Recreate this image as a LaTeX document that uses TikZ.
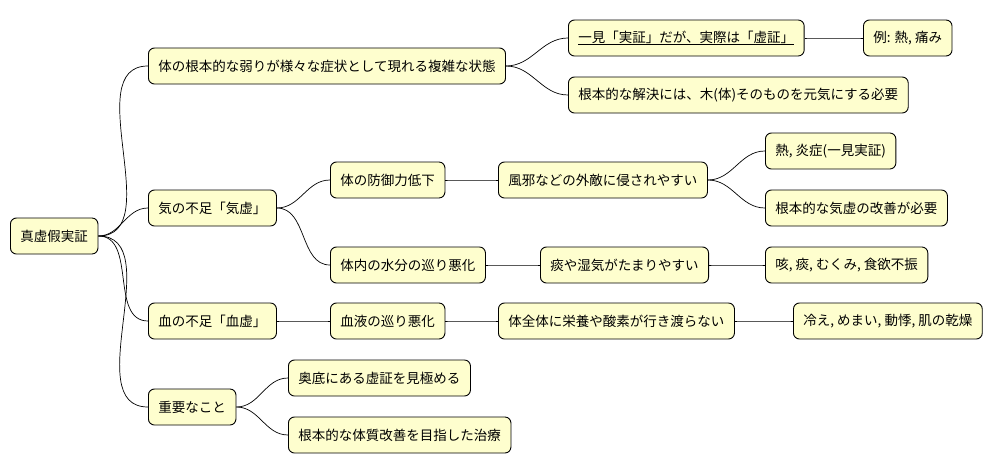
\documentclass[tikz,border=0pt]{standalone}
\usepackage{fontspec}
\setmainfont{Noto Sans CJK JP}
\definecolor{nodefill}{HTML}{FEFECE}
\begin{document}
\begin{tikzpicture}[x=1pt,y=-1pt,
  box/.style={draw=black,line width=0.9pt,rounded corners=6pt,fill=nodefill,
    minimum height=36pt,inner xsep=10pt,anchor=west,font=\fontsize{13.5pt}{16pt}\selectfont},
  link/.style={draw=black,line width=0.7pt}]
\useasboundingbox (0,0) rectangle (1005,471);
\node[box] (r) at (10,236) {真虚假実証};
\node[box] (a) at (148,66) {体の根本的な弱りが様々な症状として現れる複雑な状態};
\node[box] (a1) at (568,38) {\underline{一見「実証」だが、実際は「虚証」}};
\node[box] (a11) at (863,38) {例: 熱, 痛み};
\node[box] (a2) at (568,95) {根本的な解決には、木(体)そのものを元気にする必要};
\node[box] (b) at (148,208) {気の不足「気虚」};
\node[box] (b1) at (330,180) {体の防御力低下};
\node[box] (b11) at (498,180) {風邪などの外敵に侵されやすい};
\node[box] (b111) at (765,151) {熱, 炎症(一見実証)};
\node[box] (b112) at (765,208) {根本的な気虚の改善が必要};
\node[box] (b2) at (330,265) {体内の水分の巡り悪化};
\node[box] (b21) at (540,265) {痰や湿気がたまりやすい};
\node[box] (b211) at (765,265) {咳, 痰, むくみ, 食欲不振};
\node[box] (c) at (148,321) {血の不足「血虚」};
\node[box] (c1) at (330,321) {血液の巡り悪化};
\node[box] (c11) at (498,321) {体全体に栄養や酸素が行き渡らない};
\node[box] (c111) at (793,321) {冷え, めまい, 動悸, 肌の乾燥};
\node[box] (d) at (148,407) {重要なこと};
\node[box] (d1) at (288,378) {奥底にある虚証を見極める};
\node[box] (d2) at (288,435) {根本的な体質改善を目指した治療};
\foreach \p/\c in {r/a,r/b,r/c,r/d,a/a1,a/a2,a1/a11,b/b1,b/b2,b1/b11,b11/b111,b11/b112,b2/b21,b21/b211,c/c1,c1/c11,c11/c111,d/d1,d/d2}
  \draw[link] (\p.east) to[out=0,in=180] (\c.west);
\end{tikzpicture}
\end{document}
